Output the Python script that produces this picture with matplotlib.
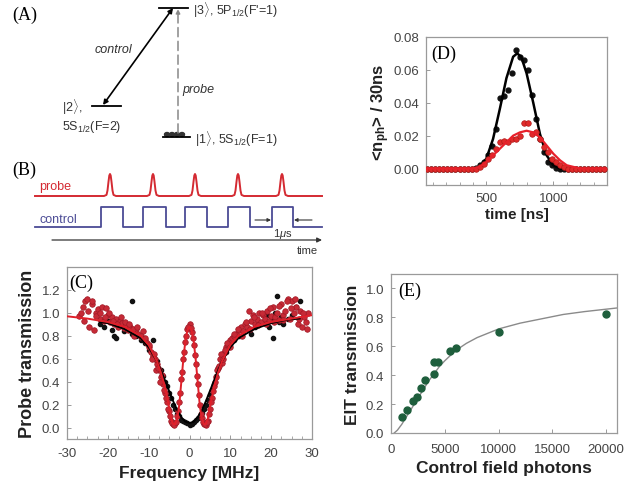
import matplotlib.pyplot as plt
import numpy as np
from matplotlib.patches import Ellipse

plt.rcParams['font.family'] = ['Liberation Sans', 'DejaVu Sans']
plt.rcParams['mathtext.fontset'] = 'custom'
plt.rcParams['mathtext.rm'] = 'Liberation Sans'
plt.rcParams['mathtext.bf'] = 'Liberation Sans:bold'
plt.rcParams['mathtext.it'] = 'Liberation Sans:italic'
plt.rcParams['axes.unicode_minus'] = False

# ---- (C) probe transmission vs frequency ----
c_red_x = [-27, -26, -25.5, -25, -24.5, -24, -23.5, -23, -22.5, -22, -21.5, -21, -20.5, -20,
           -19.5, -19, -18.5, -18, -17.5, -17, -16.5, -16, -15.5, -15, -14.5, -14, -13.5, -13,
           -12.5, -12, -11.5, -11, -10.5, -10, -9.5, -9, -8.5, -8, -7.5, -7, -6.5, -6, -5.5,
           -5, -4.5, -4, -3.5, -3, -2.5, -2, -1.5, -1, -0.5, 0, 0.5, 1, 1.5, 2, 2.5, 3, 3.5,
           4, 4.5, 5, 5.5, 6, 6.5, 7, 7.5, 8, 8.5, 9, 9.5, 10, 10.5, 11, 11.5, 12, 12.5, 13,
           13.5, 14, 14.5, 15, 15.5, 16, 16.5, 17, 17.5, 18, 18.5, 19, 19.5, 20, 20.5, 21,
           21.5, 22, 22.5, 23, 23.5, 24, 24.5, 25, 25.5, 26, 26.5, 27, 27.5, 28, 28.5, 29]
c_red_y = [0.97, 1.05, 1.10, 1.12, 0.88, 1.08, 0.85, 1.00, 1.03, 0.95, 1.05, 0.93, 1.04, 0.98,
           0.92, 0.96, 0.90, 0.95, 0.88, 0.93, 0.91, 0.87, 0.89, 0.85, 0.88, 0.84, 0.80, 0.86,
           0.82, 0.79, 0.84, 0.76, 0.74, 0.70, 0.66, 0.62, 0.60, 0.55, 0.50, 0.44, 0.38, 0.30, 0.22,
           0.14, 0.06, 0.03, 0.04, 0.10, 0.22, 0.42, 0.60, 0.75, 0.86, 0.90, 0.83, 0.72, 0.55, 0.38,
           0.20, 0.08, 0.03, 0.02, 0.06, 0.16, 0.26, 0.36, 0.44, 0.52, 0.60, 0.56, 0.65, 0.70, 0.72,
           0.76, 0.78, 0.80, 0.82, 0.85, 0.88, 0.84, 0.90, 0.88, 1.02, 0.93, 0.98, 0.90, 0.95, 1.00,
           0.92, 0.98, 0.95, 1.02, 0.93, 0.97, 1.05, 0.96, 1.00, 0.94, 1.08, 0.98, 1.02, 1.12, 0.95,
           1.10, 1.00, 1.05, 0.90, 1.02, 0.88, 0.96, 0.92, 1.00]
# second red scan
c_red2_x = [-26.5, -25.8, -24.8, -23.8, -22.8, -21.8, -20.8, -19.8, -18.8, -17.8, -16.8, -15.8,
            -14.8, -13.8, -12.8, -11.8, -10.8, -9.8, -9.3, -8.8, -8.3, -7.8, -7.3, -6.8, -6.3,
            -5.8, -5.3, -4.8, -4.3, -3.8, -3.3, -2.8, -2.3, -1.8, -1.3, -0.8, -0.3, 0.3, 0.8, 1.3,
            1.8, 2.3, 2.8, 3.3, 3.8, 4.3, 4.8, 5.3, 5.8, 6.3, 6.8, 7.3, 7.8, 8.3, 8.8, 9.3, 9.8,
            10.8, 11.8, 12.8, 13.8, 14.8, 15.8, 16.8, 17.8, 18.8, 19.8, 20.8, 21.8, 22.8, 23.8,
            24.8, 25.8, 26.8, 27.8, 28.8]
c_red2_y = [1.00, 0.93, 1.02, 1.10, 0.97, 1.00, 0.96, 1.00, 0.93, 0.90, 0.96, 0.92, 0.90, 0.86,
            0.88, 0.80, 0.78, 0.72, 0.60, 0.64, 0.50, 0.52, 0.40, 0.46, 0.33, 0.26, 0.16, 0.10,
            0.04, 0.02, 0.05, 0.14, 0.30, 0.48, 0.66, 0.80, 0.88, 0.87, 0.78, 0.63, 0.45, 0.28,
            0.12, 0.05, 0.03, 0.05, 0.12, 0.22, 0.32, 0.40, 0.50, 0.54, 0.64, 0.60, 0.68, 0.74,
            0.70, 0.82, 0.86, 0.80, 0.92, 0.86, 0.96, 0.89, 1.00, 0.90, 1.04, 0.92, 1.06, 0.94,
            1.10, 1.04, 1.12, 0.95, 1.00, 0.86]
c_blk_x = [-22, -21, -20, -19, -18.5, -18, -17, -16, -15, -14, -14, -13, -12, -11, -10, -9, -9,
           -8, -7, -6.5, -6, -5.5, -5, -4.5, -4, -3.5, -3, -2.5, -2, -1.5, -1, -0.5, 0, 0.5, 1,
           1.5, 2, 2.5, 3, 3.5, 4, 4.5, 5, 5.5, 6, 6.5, 7, 8, 9, 10, 11, 12, 13, 14, 15, 16, 17,
           18, 19, 19.5, 20, 20.5, 21, 21.5, 22, 22.5, 23, 24, 25, 26, 27]
c_blk_y = [0.90, 0.88, 0.93, 0.85, 0.80, 0.78, 0.90, 0.84, 0.88, 1.10, 0.82, 0.80, 0.76, 0.74,
           0.68, 0.76, 0.62, 0.58, 0.50, 0.45, 0.40, 0.36, 0.30, 0.26, 0.20, 0.16, 0.12, 0.10, 0.07,
           0.06, 0.05, 0.04, 0.02, 0.03, 0.05, 0.07, 0.08, 0.10, 0.13, 0.16, 0.20, 0.24, 0.28, 0.33,
           0.38, 0.45, 0.52, 0.60, 0.66, 0.72, 0.76, 0.80, 0.84, 0.86, 0.82, 0.88, 0.90, 0.92, 0.98,
           0.88, 0.95, 0.78, 1.00, 1.15, 0.92, 0.96, 0.90, 0.95, 0.98, 1.05, 1.10]
c_redfit_x = [-30, -25, -20, -16, -12, -10, -8, -7, -6, -5, -4.5, -4, -3.5, -3, -2.5, -2, -1.5,
              -1, -0.5, 0, 0.5, 1, 1.5, 2, 2.5, 3, 3.5, 4, 4.5, 5, 6, 7, 8, 10, 12, 16, 20, 25, 30]
c_redfit_y = [0.97, 0.95, 0.92, 0.88, 0.80, 0.72, 0.58, 0.48, 0.35, 0.18, 0.08, 0.03, 0.03, 0.08,
              0.20, 0.40, 0.60, 0.76, 0.85, 0.88, 0.85, 0.76, 0.60, 0.40, 0.20, 0.08, 0.03, 0.03,
              0.08, 0.18, 0.35, 0.48, 0.58, 0.72, 0.80, 0.88, 0.92, 0.95, 0.98]
c_blkfit_x = [-22, -20, -16, -12, -10, -8, -7, -6, -5, -4, -3, -2, -1, 0, 1, 2, 3, 4, 5, 6, 7,
              8, 10, 12, 16, 20, 24, 27]
c_blkfit_y = [0.92, 0.91, 0.86, 0.78, 0.70, 0.58, 0.50, 0.41, 0.32, 0.23, 0.15, 0.09, 0.05, 0.04,
              0.05, 0.09, 0.15, 0.23, 0.32, 0.41, 0.50, 0.58, 0.70, 0.78, 0.86, 0.91, 0.94, 0.95]

# ---- (D) photon counts vs time (30 ns bins) ----
d_t = list(range(60, 1400, 30))
d_blk = [0]*12 + [0.0005, 0.002, 0.004, 0.008, 0.014, 0.024, 0.043, 0.044, 0.048, 0.058, 0.072,
                  0.068, 0.066, 0.060, 0.045, 0.030, 0.018, 0.010, 0.004, 0.002, 0.0005] + [0]*12
d_red = [0]*13 + [0.001, 0.003, 0.006, 0.008, 0.012, 0.016, 0.017, 0.016, 0.018, 0.018, 0.020,
                  0.028, 0.028, 0.021, 0.022, 0.018, 0.013, 0.010, 0.006, 0.004, 0.002, 0.001] + [0]*10
d_blkfit_t = [50, 400, 450, 500, 550, 600, 650, 700, 730, 760, 800, 850, 900, 950, 1000, 1050, 1100]
d_blkfit_y = [0, 0, 0.001, 0.006, 0.018, 0.036, 0.055, 0.068, 0.070, 0.068, 0.058, 0.040, 0.021,
              0.008, 0.002, 0.0, 0.0]
d_redfit_t = [50, 400, 450, 500, 550, 600, 650, 700, 750, 800, 850, 900, 950, 1000, 1050, 1100,
              1150, 1200, 1400]
d_redfit_y = [0, 0, 0.001, 0.004, 0.008, 0.012, 0.016, 0.020, 0.022, 0.023, 0.022, 0.019, 0.014,
              0.009, 0.005, 0.002, 0.001, 0, 0]

# ---- (E) EIT transmission vs control photons ----
e_x = [1000, 1500, 2000, 2400, 2800, 3200, 4000, 4000, 4400, 5500, 6000, 10000, 20000]
e_y = [0.11, 0.16, 0.22, 0.25, 0.31, 0.37, 0.41, 0.49, 0.49, 0.57, 0.59, 0.70, 0.82]
e_fit_x = [300, 600, 1000, 1500, 2000, 2500, 3000, 3500, 4000, 4500, 5000, 6000, 7000, 8000,
           9000, 10000, 12000, 14000, 16000, 18000, 21000]
e_fit_y = [0.0, 0.02, 0.06, 0.12, 0.18, 0.24, 0.30, 0.36, 0.41, 0.46, 0.50, 0.57, 0.62, 0.66,
           0.69, 0.72, 0.76, 0.79, 0.82, 0.84, 0.865]

W, H = 642, 489
fig = plt.figure(figsize=(W/100, H/100), dpi=100)

RED = '#d42a32'
BLUE = '#4b4b95'
GREEN = '#1e5e3c'
TICKC = '#444444'
LABC = '#222222'
serif = dict(family='Liberation Serif', fontsize=13)

# overlay axis in pixel coordinates for the diagrams (A) and (B)
ax0 = fig.add_axes([0, 0, 1, 1])
ax0.set_xlim(0, W)
ax0.set_ylim(H, 0)
ax0.axis('off')

# (A) level scheme
ax0.text(12, 15, '(A)', va='center', **serif)
ax0.plot([159, 188], [9, 9], color='black', lw=1.3)
ax0.plot([92, 121], [107, 107], color='black', lw=1.3)
ax0.plot([163, 190], [138, 138], color='black', lw=1.3)
for cx in [167, 172, 177, 182]:
    ax0.add_patch(Ellipse((cx, 135.5), 5, 4, color='#333333'))
ax0.annotate('', xy=(173, 9), xytext=(103, 106),
             arrowprops=dict(arrowstyle='<|-|>', color='black', lw=1.2, mutation_scale=7,
                             shrinkA=0, shrinkB=0))
ax0.annotate('', xy=(178, 10), xytext=(178, 134),
             arrowprops=dict(arrowstyle='-|>', color='#888888', lw=1.1, ls=(0, (6, 3)),
                             mutation_scale=6, shrinkA=0, shrinkB=0))
ax0.text(95, 50, 'control', style='italic', fontsize=9, color='#333333', va='center')
ax0.text(182, 90, 'probe', style='italic', fontsize=9, color='#333333', va='center')
ax0.text(193, 10, r"|3$\rangle$, 5P$_{1/2}$(F'=1)", fontsize=9, color='#333333', va='center')
ax0.text(62, 107, r'|2$\rangle$,', fontsize=9, color='#333333', va='center')
ax0.text(62, 127, r'5S$_{1/2}$(F=2)', fontsize=9, color='#333333', va='center')
ax0.text(195, 139, r'|1$\rangle$, 5S$_{1/2}$(F=1)', fontsize=9, color='#333333', va='center')

# (B) pulse sequence
ax0.text(12, 170, '(B)', va='center', **serif)
pulse_dx = [-6, -3.5, -2.5, -1.5, -0.7, 0, 0.7, 1.5, 2.5, 3.5, 6]
pulse_h = [0, 0.05, 0.25, 0.65, 0.93, 1, 0.93, 0.65, 0.25, 0.05, 0]
probe_centers = [110, 153, 195, 238, 282]
px, py = [35], [197]
for c in probe_centers:
    px += [c + d for d in pulse_dx]
    py += [197 - 22*h for h in pulse_h]
px.append(322)
py.append(197)
ax0.plot(px, py, color=RED, lw=1.4)
ctrl_edges = [(101, 123), (143, 166), (185, 207), (228, 250), (272, 293)]
cx_, cy_ = [35], [228]
for a, b in ctrl_edges:
    cx_ += [a, a, b, b]
    cy_ += [228, 208, 208, 228]
cx_.append(322)
cy_.append(228)
ax0.plot(cx_, cy_, color=BLUE, lw=1.3)
ax0.text(39, 187, 'probe', color=RED, fontsize=9, va='center')
ax0.text(39, 220, 'control', color=BLUE, fontsize=9, va='center')
ax0.annotate('', xy=(322, 241), xytext=(52, 241),
             arrowprops=dict(arrowstyle='-|>', color='#333333', lw=0.9, mutation_scale=7,
                             shrinkA=0, shrinkB=0))
ax0.text(318, 251, 'time', fontsize=8, ha='right', va='center', color='#333333')
ax0.text(283, 234, r'1$\mu$s', fontsize=8, ha='center', va='center', color='#333333')
ax0.annotate('', xy=(271, 221), xytext=(255, 221),
             arrowprops=dict(arrowstyle='-|>', color='#333333', lw=0.8, mutation_scale=5,
                             shrinkA=0, shrinkB=0))
ax0.annotate('', xy=(294, 221), xytext=(312, 221),
             arrowprops=dict(arrowstyle='-|>', color='#333333', lw=0.8, mutation_scale=5,
                             shrinkA=0, shrinkB=0))


def style(ax, xpad=5):
    for s in ax.spines.values():
        s.set_color('#9a9a9a')
        s.set_linewidth(0.9)
    ax.tick_params(direction='in', length=3, width=0.7, color='#9a9a9a',
                   labelsize=9.5, labelcolor=TICKC, pad=5)
    ax.tick_params(axis='x', pad=xpad)
    ax.tick_params(which='minor', direction='in', length=2, width=0.6, color='#9a9a9a')


# (C)
axC = fig.add_axes([67/W, 1 - 440/H, 245/W, 172/H])
style(axC, xpad=6)
axC.plot(c_blk_x, c_blk_y, 'o', color='#111111', ms=3, zorder=2)
axC.plot(c_red_x, c_red_y, 'o', color='#c62a36', mec='#a01825', mew=0.5, ms=4, zorder=3)
axC.plot(c_red2_x, c_red2_y, 'o', color='#c62a36', mec='#a01825', mew=0.5, ms=4, zorder=3)
axC.plot(c_blkfit_x, c_blkfit_y, '-', color='black', lw=1.3, zorder=4)
axC.plot(c_redfit_x, c_redfit_y, '-', color='#e0202a', lw=1.4, zorder=5)
axC.set_xlim(-30, 30)
axC.set_ylim(-0.1, 1.4)
axC.set_xticks([-30, -20, -10, 0, 10, 20, 30])
axC.set_xticks(np.arange(-30, 31, 2.5), minor=True)
axC.set_yticks([0, 0.2, 0.4, 0.6, 0.8, 1.0, 1.2])
axC.yaxis.set_major_formatter(plt.FormatStrFormatter('%.1f'))
axC.set_xlabel('Frequency [MHz]', fontsize=12.5, fontweight='bold', color=LABC, labelpad=4)
axC.set_ylabel('Probe transmission', fontsize=13, fontweight='bold', color=LABC, labelpad=4)
axC.text(0.01, 0.96, '(C)', transform=axC.transAxes, va='top', **serif)

# (D)
axD = fig.add_axes([426/W, 1 - 186/H, 181/W, 148/H])
style(axD)
axD.plot(d_t, d_blk, 'o', color='#111111', ms=3.5, zorder=2)
axD.plot(d_blkfit_t, d_blkfit_y, '-', color='black', lw=1.8, zorder=3)
axD.plot(d_t, d_red, 'o', color='#e02a2a', mec='#b01818', mew=0.5, ms=4, zorder=4)
axD.plot(d_redfit_t, d_redfit_y, '-', color='#e8202a', lw=1.6, zorder=5)
axD.set_xlim(50, 1400)
axD.set_ylim(-0.01, 0.08)
axD.set_xticks([500, 1000])
axD.set_xticks(np.arange(100, 1400, 100), minor=True)
axD.set_yticks([0, 0.02, 0.04, 0.06, 0.08])
axD.yaxis.set_major_formatter(plt.FormatStrFormatter('%.2f'))
axD.set_xlabel('time [ns]', fontsize=11, fontweight='bold', color=LABC, labelpad=2)
axD.set_ylabel(r'<n$_{\bf{ph}}$> / 30ns', fontsize=12, fontweight='bold', color=LABC,
               labelpad=1)
axD.text(0.03, 0.95, '(D)', transform=axD.transAxes, va='top', **serif)

# (E)
axE = fig.add_axes([391/W, 1 - 434/H, 226/W, 159/H])
style(axE, xpad=7)
axE.plot(e_fit_x, e_fit_y, '-', color='#8a8a8a', lw=1.0, zorder=2)
axE.plot(e_x, e_y, 'o', color=GREEN, ms=5, zorder=3)
axE.set_xlim(0, 21000)
axE.set_ylim(0, 1.1)
axE.set_xticks([0, 5000, 10000, 15000, 20000])
axE.set_yticks([0, 0.2, 0.4, 0.6, 0.8, 1.0])
axE.yaxis.set_major_formatter(plt.FormatStrFormatter('%.1f'))
axE.set_xlabel('Control field photons', fontsize=12.5, fontweight='bold', color=LABC, labelpad=4)
axE.set_ylabel('EIT transmission', fontsize=12.5, fontweight='bold', color=LABC, labelpad=4)
axE.text(0.03, 0.95, '(E)', transform=axE.transAxes, va='top', **serif)

plt.savefig('out.png', dpi=100)
